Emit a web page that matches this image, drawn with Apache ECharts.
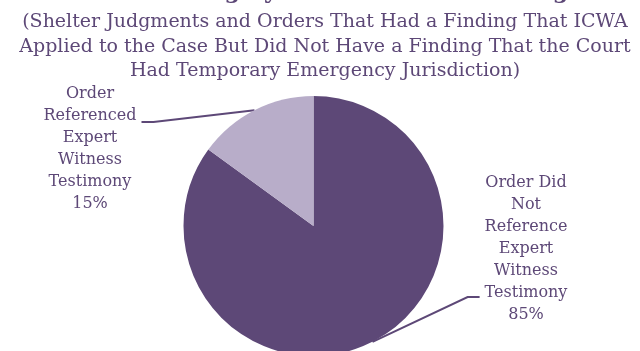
<!DOCTYPE html>
<html><head><meta charset="utf-8">
<script src="https://cdn.jsdelivr.net/npm/echarts@6/dist/echarts.min.js"></script>
<style>html,body{margin:0;padding:0;background:#fff}#c{width:640px;height:351px}</style>
</head><body><div id="c"></div>
<script>
const titleText = 'ICWA Finding by Shelter Order Hearing';
const subtitleLines = [
  '(Shelter Judgments and Orders That Had a Finding That ICWA',
  'Applied to the Case But Did Not Have a Finding That the Court',
  'Had Temporary Emergency Jurisdiction)'
];
const categories = [
  'Order Did\nNot\nReference\nExpert\nWitness\nTestimony',
  'Order\nReferenced\nExpert\nWitness\nTestimony'
];
const values = [85, 15];
const colors = ['#5d4877', '#b8adc9'];

const textColor = '#5d4877';
const fontFam = '"DejaVu Serif", serif';
const center = [313.5, 226];
const radius = 130;
const startAngle = 90;
// label placement (layout only)
const labelPos = [
  { x: 526, y: 248.5, lineY: 297, side: 1 },
  { x: 90, y: 149, lineY: 122, side: -1 }
];

const total = values.reduce((a, b) => a + b, 0);
function midPoint(i) {
  let cum = 0;
  for (let k = 0; k < i; k++) cum += values[k];
  const ang = (startAngle - 360 * (cum + values[i] / 2) / total) * Math.PI / 180;
  return [center[0] + radius * Math.cos(ang), center[1] - radius * Math.sin(ang)];
}

const chart = echarts.init(document.getElementById('c'), null, { renderer: 'canvas' });
chart.setOption({
  animation: false,
  backgroundColor: '#fff',
  title: [
    {
      text: titleText, left: 312, textAlign: 'center', top: -24,
      textStyle: { color: textColor, fontFamily: fontFam, fontWeight: 'bold', fontSize: 22.5 }
    },
    {
      text: subtitleLines.join('\n'), left: 320, top: 5,
      textAlign: 'center',
      textStyle: { color: textColor, fontFamily: fontFam, fontWeight: 'normal', fontSize: 19, lineHeight: 24.5 }
    }
  ],
  series: [{
    type: 'pie',
    center: center,
    radius: radius,
    startAngle: startAngle,
    clockwise: true,
    silent: true,
    emphasis: { disabled: true },
    data: values.map((v, i) => ({ name: categories[i], value: v, itemStyle: { color: colors[i] } })),
    label: {
      show: true,
      position: 'outside',
      formatter: p => p.name + '\n' + Math.round(p.percent) + '%',
      color: textColor,
      fontFamily: fontFam,
      fontSize: 16,
      lineHeight: 22,
      align: 'center'
    },
    labelLine: { show: true, length: 10, length2: 10, smooth: false, lineStyle: { color: textColor, width: 2 } },
    labelLayout: function (p) {
      const L = labelPos[p.dataIndex];
      const w = p.labelRect.width;
      const end = L.x - L.side * (w / 2 + 5);
      const knee = end - L.side * 12;
      return {
        x: L.x, y: L.y, align: 'center', verticalAlign: 'middle',
        labelLinePoints: [midPoint(p.dataIndex), [knee, L.lineY], [end, L.lineY]]
      };
    }
  }]
});
</script>
</body></html>
